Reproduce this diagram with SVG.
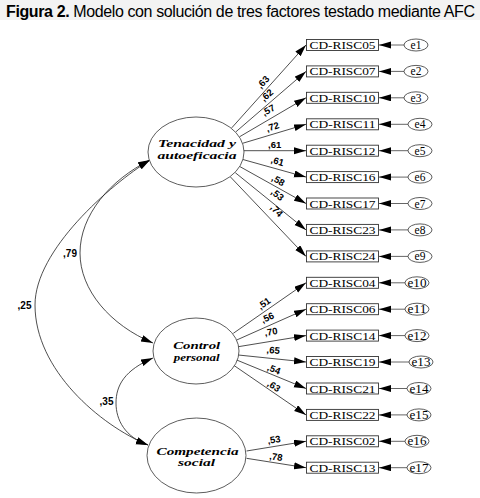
<svg xmlns="http://www.w3.org/2000/svg" width="480" height="498" viewBox="0 0 480 498">
<defs>
<marker id="ah" markerUnits="userSpaceOnUse" markerWidth="13" markerHeight="8" refX="12" refY="3.5" orient="auto-start-reverse">
<path d="M0,0 L12,3.5 L0,7 z" fill="#000"/>
</marker>
<style>
.lat{fill:#fff;stroke:#333;stroke-width:0.8}
.latt{font-family:"Liberation Serif","DejaVu Serif",serif;font-weight:bold;font-style:italic;font-size:10.5px;text-anchor:middle;fill:#000}
.box{fill:#fff;stroke:#333;stroke-width:0.9}
.boxt{font-family:"Liberation Serif","DejaVu Serif",serif;font-size:11px;fill:#000}
.err{fill:#fff;stroke:#333;stroke-width:0.8}
.errt{font-family:"Liberation Serif","DejaVu Serif",serif;font-size:11.5px;text-anchor:middle;fill:#000}
.ln{fill:none;stroke:#222;stroke-width:0.8;marker-end:url(#ah)}
.el{fill:none;stroke:#555;stroke-width:0.9;marker-end:url(#ah)}
.cv{fill:none;stroke:#222;stroke-width:0.8;marker-start:url(#ah);marker-end:url(#ah)}
.lb{font-family:"Liberation Sans",Arial,sans-serif;font-weight:bold;font-size:9.5px;text-anchor:middle;fill:#000}
.cl{font-family:"Liberation Sans",Arial,sans-serif;font-weight:bold;font-size:10px;text-anchor:middle;fill:#000}
</style>
</defs>
<rect x="0" y="0" width="480" height="498" fill="#fff"/>
<rect x="0" y="0" width="480" height="20" fill="#f3f3f3"/>
<text x="6" y="16.5" font-family="'Liberation Sans',Arial,sans-serif" font-size="16" textLength="469" lengthAdjust="spacing"><tspan font-weight="bold">Figura 2.</tspan> Modelo con solución de tres factores testado mediante AFC</text>

<g id="connectors">
<line class="ln" x1="231.7" y1="127.9" x2="306" y2="45"/>
<line class="ln" x1="235.8" y1="131.9" x2="306" y2="71.4"/>
<line class="ln" x1="239.5" y1="136.8" x2="306" y2="97.8"/>
<line class="ln" x1="242.6" y1="143.3" x2="306" y2="124.3"/>
<line class="ln" x1="244" y1="150.7" x2="306" y2="150.7"/>
<line class="ln" x1="242.9" y1="159.5" x2="306" y2="177.1"/>
<line class="ln" x1="239.9" y1="166.6" x2="306" y2="203.5"/>
<line class="ln" x1="235.3" y1="172.7" x2="306" y2="229.9"/>
<line class="ln" x1="230.5" y1="177" x2="306" y2="256.4"/>
<line class="ln" x1="233.3" y1="333.3" x2="306" y2="282.8"/>
<line class="ln" x1="236.7" y1="340" x2="306" y2="309.2"/>
<line class="ln" x1="238.3" y1="346.7" x2="306" y2="335.6"/>
<line class="ln" x1="238.3" y1="355" x2="306" y2="362"/>
<line class="ln" x1="236.7" y1="360" x2="306" y2="388.5"/>
<line class="ln" x1="233.3" y1="365" x2="306" y2="414.9"/>
<line class="ln" x1="246.5" y1="451" x2="306" y2="441.3"/>
<line class="ln" x1="246.5" y1="458.3" x2="306" y2="467.7"/>
<line class="el" x1="404" y1="45" x2="379" y2="45"/>
<line class="el" x1="404" y1="71.4" x2="379" y2="71.4"/>
<line class="el" x1="404" y1="97.8" x2="379" y2="97.8"/>
<line class="el" x1="408" y1="124.3" x2="379" y2="124.3"/>
<line class="el" x1="408" y1="150.7" x2="379" y2="150.7"/>
<line class="el" x1="408" y1="177.1" x2="379" y2="177.1"/>
<line class="el" x1="408" y1="203.5" x2="379" y2="203.5"/>
<line class="el" x1="408" y1="229.9" x2="379" y2="229.9"/>
<line class="el" x1="408" y1="256.4" x2="379" y2="256.4"/>
<line class="el" x1="405" y1="282.8" x2="379" y2="282.8"/>
<line class="el" x1="405" y1="309.2" x2="379" y2="309.2"/>
<line class="el" x1="405" y1="335.6" x2="379" y2="335.6"/>
<line class="el" x1="409" y1="362" x2="379" y2="362"/>
<line class="el" x1="407" y1="388.5" x2="379" y2="388.5"/>
<line class="el" x1="407" y1="414.9" x2="379" y2="414.9"/>
<line class="el" x1="405" y1="441.3" x2="379" y2="441.3"/>
<line class="el" x1="407" y1="467.7" x2="379" y2="467.7"/>
<path class="cv" d="M150,160 C110,180 80,215 80,253 C80,290 110,325 153,343"/>
<path class="cv" d="M150,160 C110,185 35,250 35,305 C35,370 100,425 148,445"/>
<path class="cv" d="M153,358 C125,370 116,385 116,403 C116,420 125,437 148,445"/>
<text class="lb" transform="translate(263,82) rotate(-48)" y="3.4">,63</text>
<text class="lb" transform="translate(266.7,95) rotate(-41)" y="3.4">,62</text>
<text class="lb" transform="translate(268.3,110) rotate(-30)" y="3.4">,57</text>
<text class="lb" transform="translate(272.5,126.7) rotate(-17)" y="3.4">,72</text>
<text class="lb" transform="translate(274.7,144.5)" y="3.4">,61</text>
<text class="lb" transform="translate(277.5,161) rotate(16)" y="3.4">,61</text>
<text class="lb" transform="translate(278.3,180.3) rotate(29)" y="3.4">,58</text>
<text class="lb" transform="translate(277.5,194.5) rotate(39)" y="3.4">,53</text>
<text class="lb" transform="translate(276.7,210.5) rotate(46)" y="3.4">,74</text>
<text class="lb" transform="translate(264,303.3) rotate(-35)" y="3.4">,51</text>
<text class="lb" transform="translate(267.5,317.5) rotate(-24)" y="3.4">,56</text>
<text class="lb" transform="translate(271,331.7) rotate(-9)" y="3.4">,70</text>
<text class="lb" transform="translate(273.3,350) rotate(6)" y="3.4">,65</text>
<text class="lb" transform="translate(274,369) rotate(22)" y="3.4">,54</text>
<text class="lb" transform="translate(274,386) rotate(34)" y="3.4">,63</text>
<text class="lb" transform="translate(274,439.5) rotate(-9)" y="3.4">,53</text>
<text class="lb" transform="translate(276,456.7) rotate(9)" y="3.4">,78</text>
<text class="cl" x="70" y="257">,79</text>
<text class="cl" x="24.5" y="308.5">,25</text>
<text class="cl" x="106.5" y="405">,35</text>
</g>

<g id="tenacidad">
<ellipse class="lat" cx="196" cy="152" rx="48" ry="35"/>
<text class="latt" x="197" y="146.7" textLength="78" lengthAdjust="spacingAndGlyphs">Tenacidad y</text>
<text class="latt" x="197" y="158.5" textLength="79" lengthAdjust="spacingAndGlyphs">autoeficacia</text>
</g>
<g id="control">
<ellipse class="lat" cx="196" cy="351" rx="43" ry="33"/>
<text class="latt" x="196.7" y="348.5" textLength="47" lengthAdjust="spacingAndGlyphs">Control</text>
<text class="latt" x="196.7" y="360.5" textLength="46" lengthAdjust="spacingAndGlyphs">personal</text>
</g>
<g id="competencia">
<ellipse class="lat" cx="196.5" cy="455.5" rx="49.5" ry="37.5"/>
<text class="latt" x="197.5" y="454.5" textLength="82" lengthAdjust="spacingAndGlyphs">Competencia</text>
<text class="latt" x="196.5" y="466" textLength="37" lengthAdjust="spacingAndGlyphs">social</text>
</g>

<g id="cd-risc05"><rect class="box" x="306.5" y="39.5" width="72" height="11"/><text class="boxt" x="309.5" y="49" textLength="66" lengthAdjust="spacingAndGlyphs">CD-RISC05</text></g>
<g id="cd-risc07"><rect class="box" x="306.5" y="65.9" width="72" height="11"/><text class="boxt" x="309.5" y="75.4" textLength="66" lengthAdjust="spacingAndGlyphs">CD-RISC07</text></g>
<g id="cd-risc10"><rect class="box" x="306.5" y="92.3" width="72" height="11"/><text class="boxt" x="309.5" y="101.8" textLength="66" lengthAdjust="spacingAndGlyphs">CD-RISC10</text></g>
<g id="cd-risc11"><rect class="box" x="306.5" y="118.8" width="72" height="11"/><text class="boxt" x="309.5" y="128.3" textLength="66" lengthAdjust="spacingAndGlyphs">CD-RISC11</text></g>
<g id="cd-risc12"><rect class="box" x="306.5" y="145.2" width="72" height="11"/><text class="boxt" x="309.5" y="154.7" textLength="66" lengthAdjust="spacingAndGlyphs">CD-RISC12</text></g>
<g id="cd-risc16"><rect class="box" x="306.5" y="171.6" width="72" height="11"/><text class="boxt" x="309.5" y="181.1" textLength="66" lengthAdjust="spacingAndGlyphs">CD-RISC16</text></g>
<g id="cd-risc17"><rect class="box" x="306.5" y="198" width="72" height="11"/><text class="boxt" x="309.5" y="207.5" textLength="66" lengthAdjust="spacingAndGlyphs">CD-RISC17</text></g>
<g id="cd-risc23"><rect class="box" x="306.5" y="224.4" width="72" height="11"/><text class="boxt" x="309.5" y="233.9" textLength="66" lengthAdjust="spacingAndGlyphs">CD-RISC23</text></g>
<g id="cd-risc24"><rect class="box" x="306.5" y="250.9" width="72" height="11"/><text class="boxt" x="309.5" y="260.4" textLength="66" lengthAdjust="spacingAndGlyphs">CD-RISC24</text></g>
<g id="cd-risc04"><rect class="box" x="306.5" y="277.3" width="72" height="11"/><text class="boxt" x="309.5" y="286.8" textLength="66" lengthAdjust="spacingAndGlyphs">CD-RISC04</text></g>
<g id="cd-risc06"><rect class="box" x="306.5" y="303.7" width="72" height="11"/><text class="boxt" x="309.5" y="313.2" textLength="66" lengthAdjust="spacingAndGlyphs">CD-RISC06</text></g>
<g id="cd-risc14"><rect class="box" x="306.5" y="330.1" width="72" height="11"/><text class="boxt" x="309.5" y="339.6" textLength="66" lengthAdjust="spacingAndGlyphs">CD-RISC14</text></g>
<g id="cd-risc19"><rect class="box" x="306.5" y="356.5" width="72" height="11"/><text class="boxt" x="309.5" y="366" textLength="66" lengthAdjust="spacingAndGlyphs">CD-RISC19</text></g>
<g id="cd-risc21"><rect class="box" x="306.5" y="383" width="72" height="11"/><text class="boxt" x="309.5" y="392.5" textLength="66" lengthAdjust="spacingAndGlyphs">CD-RISC21</text></g>
<g id="cd-risc22"><rect class="box" x="306.5" y="409.4" width="72" height="11"/><text class="boxt" x="309.5" y="418.9" textLength="66" lengthAdjust="spacingAndGlyphs">CD-RISC22</text></g>
<g id="cd-risc02"><rect class="box" x="306.5" y="435.8" width="72" height="11"/><text class="boxt" x="309.5" y="445.3" textLength="66" lengthAdjust="spacingAndGlyphs">CD-RISC02</text></g>
<g id="cd-risc13"><rect class="box" x="306.5" y="462.2" width="72" height="11"/><text class="boxt" x="309.5" y="471.7" textLength="66" lengthAdjust="spacingAndGlyphs">CD-RISC13</text></g>

<g id="e1"><ellipse class="err" cx="416" cy="45" rx="12" ry="6"/><text class="errt" x="416" y="49">e1</text></g>
<g id="e2"><ellipse class="err" cx="416" cy="71.4" rx="12" ry="6"/><text class="errt" x="416" y="75.4">e2</text></g>
<g id="e3"><ellipse class="err" cx="416" cy="97.8" rx="12" ry="6"/><text class="errt" x="416" y="101.8">e3</text></g>
<g id="e4"><ellipse class="err" cx="420" cy="124.3" rx="12" ry="6"/><text class="errt" x="420" y="128.3">e4</text></g>
<g id="e5"><ellipse class="err" cx="420" cy="150.7" rx="12" ry="6"/><text class="errt" x="420" y="154.7">e5</text></g>
<g id="e6"><ellipse class="err" cx="420" cy="177.1" rx="12" ry="6"/><text class="errt" x="420" y="181.1">e6</text></g>
<g id="e7"><ellipse class="err" cx="420" cy="203.5" rx="12" ry="6"/><text class="errt" x="420" y="207.5">e7</text></g>
<g id="e8"><ellipse class="err" cx="420" cy="229.9" rx="12" ry="6"/><text class="errt" x="420" y="233.9">e8</text></g>
<g id="e9"><ellipse class="err" cx="420" cy="256.4" rx="12" ry="6"/><text class="errt" x="420" y="260.4">e9</text></g>
<g id="e10"><ellipse class="err" cx="417" cy="282.8" rx="12" ry="6"/><text class="errt" x="417" y="286.8" textLength="19" lengthAdjust="spacingAndGlyphs">e10</text></g>
<g id="e11"><ellipse class="err" cx="417" cy="309.2" rx="12" ry="6"/><text class="errt" x="417" y="313.2" textLength="19" lengthAdjust="spacingAndGlyphs">e11</text></g>
<g id="e12"><ellipse class="err" cx="417" cy="335.6" rx="12" ry="6"/><text class="errt" x="417" y="339.6" textLength="19" lengthAdjust="spacingAndGlyphs">e12</text></g>
<g id="e13"><ellipse class="err" cx="421" cy="362" rx="12" ry="6"/><text class="errt" x="421" y="366" textLength="19" lengthAdjust="spacingAndGlyphs">e13</text></g>
<g id="e14"><ellipse class="err" cx="419" cy="388.5" rx="12" ry="6"/><text class="errt" x="419" y="392.5" textLength="19" lengthAdjust="spacingAndGlyphs">e14</text></g>
<g id="e15"><ellipse class="err" cx="419" cy="414.9" rx="12" ry="6"/><text class="errt" x="419" y="418.9" textLength="19" lengthAdjust="spacingAndGlyphs">e15</text></g>
<g id="e16"><ellipse class="err" cx="417" cy="441.3" rx="12" ry="6"/><text class="errt" x="417" y="445.3" textLength="19" lengthAdjust="spacingAndGlyphs">e16</text></g>
<g id="e17"><ellipse class="err" cx="419" cy="467.7" rx="12" ry="6"/><text class="errt" x="419" y="471.7" textLength="19" lengthAdjust="spacingAndGlyphs">e17</text></g>
</svg>
